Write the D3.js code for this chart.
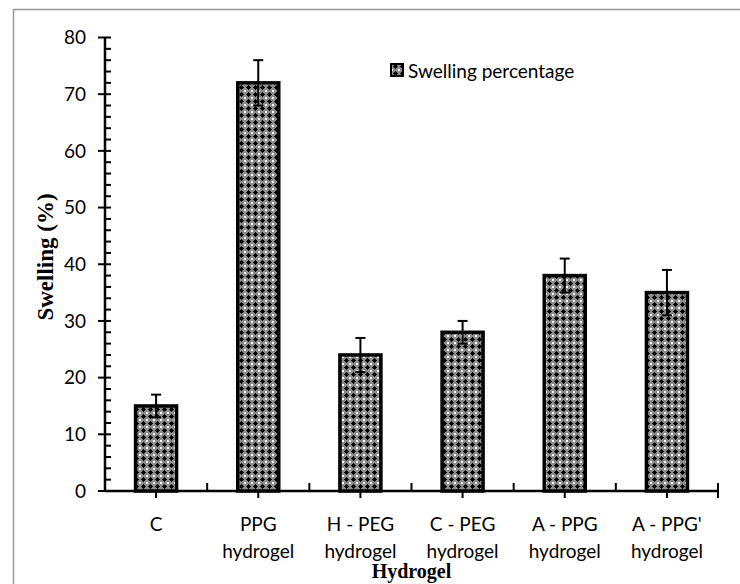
<!DOCTYPE html>
<html><head><meta charset="utf-8">
<script src="https://cdn.jsdelivr.net/npm/d3@7"></script>
<style>body{margin:0;background:#fff}svg{display:block}</style>
</head><body>
<svg id="chart" width="740" height="584"></svg>
<script>
const categories = [["C"],["PPG","hydrogel"],["H - PEG","hydrogel"],["C - PEG","hydrogel"],["A - PPG","hydrogel"],["A - PPG'","hydrogel"]];
const swelling = [15, 72, 24, 28, 38, 35];
const errors = [2, 4, 3, 2, 3, 4];
const yTicks = [0,10,20,30,40,50,60,70,80];
const seriesName = "Swelling percentage";
const xTitle = "Hydrogel";
const yTitle = "Swelling (%)";

const svg = d3.select("#chart");
const defs = svg.append("defs");
const pat = defs.append("pattern").attr("id","hatch").attr("patternUnits","userSpaceOnUse")
  .attr("width",7).attr("height",7);
pat.append("rect").attr("width",7).attr("height",7).attr("fill","#8c8c8c");
pat.append("rect").attr("x",3).attr("y",1).attr("width",1).attr("height",5).attr("fill","#000");
pat.append("rect").attr("x",1).attr("y",3).attr("width",5).attr("height",1).attr("fill","#000");
pat.append("rect").attr("x",2).attr("y",2).attr("width",3).attr("height",3).attr("fill","#000");
[[0,0],[6,0],[0,6],[6,6]].forEach(p=>pat.append("rect").attr("x",p[0]).attr("y",p[1]).attr("width",1).attr("height",1).attr("fill","#fff"));

// outer frame
svg.append("rect").attr("x",13.5).attr("y",9.5).attr("width",800).attr("height",800)
  .attr("fill","none").attr("stroke","#999").attr("stroke-width",1.5);

const x0 = 105, x1 = 718, yTop = 37.5, yBot = 491;
const xb = d3.scaleBand().domain(d3.range(categories.length)).range([x0,x1]);
const y = d3.scaleLinear().domain([0,80]).range([yBot,yTop]);

// bars
svg.append("g").selectAll("rect").data(swelling).join("rect")
  .attr("x",(d,i)=>xb(i)+xb.bandwidth()/2-20.5)
  .attr("width",41)
  .attr("y",d=>y(d)).attr("height",d=>yBot-y(d))
  .attr("fill","url(#hatch)").attr("stroke","#000").attr("stroke-width",3.5);

// error bars
const eg = svg.append("g").attr("stroke","#000").attr("stroke-width",2);
swelling.forEach((v,i)=>{
  const cx = xb(i)+xb.bandwidth()/2;
  eg.append("line").attr("x1",cx).attr("x2",cx).attr("y1",y(v+errors[i])).attr("y2",y(v-errors[i]));
  eg.append("line").attr("x1",cx-5).attr("x2",cx+5).attr("y1",y(v+errors[i])).attr("y2",y(v+errors[i]));
  eg.append("line").attr("x1",cx-5).attr("x2",cx+5).attr("y1",y(v-errors[i])).attr("y2",y(v-errors[i]));
});

// y axis
const ya = svg.append("g");
ya.append("line").attr("x1",x0).attr("x2",x0).attr("y1",y(80)).attr("y2",yBot).attr("stroke","#000").attr("stroke-width",2.5);
d3.range(0,81,2).forEach(v=>{
  const major = v%10===0;
  ya.append("line").attr("x1",major?x0-7:x0).attr("x2",x0+6).attr("y1",y(v)).attr("y2",y(v))
    .attr("stroke","#000").attr("stroke-width",2);
});
ya.selectAll("text").data(yTicks).join("text")
  .attr("x",x0-19).attr("y",d=>y(d)).attr("dy","0.35em").attr("text-anchor","end")
  .attr("font-family","Lato, 'Open Sans', sans-serif").attr("font-size",19).attr("fill","#000")
  .text(d=>d);

// x axis
const xa = svg.append("g");
xa.append("line").attr("x1",x0).attr("x2",x1).attr("y1",yBot).attr("y2",yBot).attr("stroke","#000").attr("stroke-width",2.5);
categories.forEach((c,i)=>{
  const cx = xb(i)+xb.bandwidth()/2;
  xa.append("line").attr("x1",cx).attr("x2",cx).attr("y1",yBot).attr("y2",yBot+7).attr("stroke","#000").attr("stroke-width",2);
  const bx = xb(i)+xb.bandwidth();
  xa.append("line").attr("x1",bx).attr("x2",bx).attr("y1",yBot-8).attr("y2",i===categories.length-1?yBot+7:yBot).attr("stroke","#000").attr("stroke-width",2);
  const t = xa.append("text").attr("text-anchor","middle")
    .attr("font-family","Lato, 'Open Sans', sans-serif").attr("font-size",19).attr("fill","#000");
  c.forEach((line,k)=>t.append("tspan").attr("x",cx).attr("y",531+k*27).text(line));
});

// titles
svg.append("text").attr("x",(x0+x1)/2).attr("y",578).attr("text-anchor","middle")
  .attr("font-family","'Liberation Serif', 'Times New Roman', serif").attr("font-weight","bold").attr("font-size",20)
  .text(xTitle);
svg.append("text").attr("transform","translate(53,257) rotate(-90)").attr("text-anchor","middle")
  .attr("font-family","'Liberation Serif', 'Times New Roman', serif").attr("font-weight","bold").attr("font-size",23)
  .text(yTitle);

// legend
svg.append("rect").attr("x",391).attr("y",64).attr("width",12).attr("height",12)
  .attr("fill","url(#hatch)").attr("stroke","#000").attr("stroke-width",2);
svg.append("text").attr("x",408).attr("y",78)
  .attr("font-family","Lato, 'Open Sans', sans-serif").attr("font-size",19).attr("fill","#000")
  .text(seriesName);
</script>
</body></html>
